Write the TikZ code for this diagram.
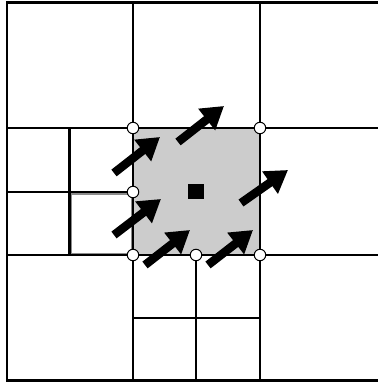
\documentclass[tikz,border=0pt]{standalone}
\usetikzlibrary{arrows.meta}

\begin{document}
\begin{tikzpicture}[
  x=1pt, y=-1pt,
  grid/.style={line width=2.6pt, line cap=rect},
  finer/.style={draw=black!45, line width=1.4pt},
  cell/.style={fill=black!20},
  vtx/.style={circle, draw, fill=white, line width=1pt, minimum size=11.5pt, inner sep=0pt},
  cen/.style={fill=black, minimum size=15.5pt, inner sep=0pt},
  flux/.style={line width=8.5pt, -{Triangle[length=22pt, width=26pt]}}
]
\useasboundingbox (0,0) rectangle (377,382);
% shaded control cell
\fill[cell] (133,128) rectangle (260,255);
% refined cell outline
\draw[finer] (71,194) rectangle (131.5,253.5);
% coarse grid
\draw[grid] (7,2.5) -- (7,380.5);
\draw[grid] (7,2.5) -- (377,2.5);
\draw[grid] (7,380.5) -- (377,380.5);
\draw[grid] (133,2.5) -- (133,380.5);
\draw[grid] (260,2.5) -- (260,380.5);
\draw[grid] (7,128) -- (377,128);
\draw[grid] (7,255) -- (377,255);
% refined cells
\draw[grid] (69.5,128) -- (69.5,255);
\draw[grid] (7,192) -- (133,192);
\draw[grid] (196,255) -- (196,380.5);
\draw[grid] (133,318) -- (260,318);
% cell centre
\node[cen] (ctr) at (196,191.5) {};
% flux arrows
\foreach \i/\tx/\ty/\hx/\hy in {a/114/173/160/137, b/178/142/224/106, c/114/235/161/199,
                                d/241/203/288/170, e/145/265/190/230, f/208/265/253/230} {
  \coordinate (t\i) at (\tx,\ty);
  \coordinate (h\i) at (\hx,\hy);
  \draw[flux] (t\i) -- (h\i);
}
% face vertices
\node[vtx] (nw) at (133,128) {};
\node[vtx] (ne) at (260,128) {};
\node[vtx] (w) at (133,192) {};
\node[vtx] (sw) at (133,255) {};
\node[vtx] (s) at (196,255) {};
\node[vtx] (se) at (260,255) {};
\end{tikzpicture}
\end{document}
